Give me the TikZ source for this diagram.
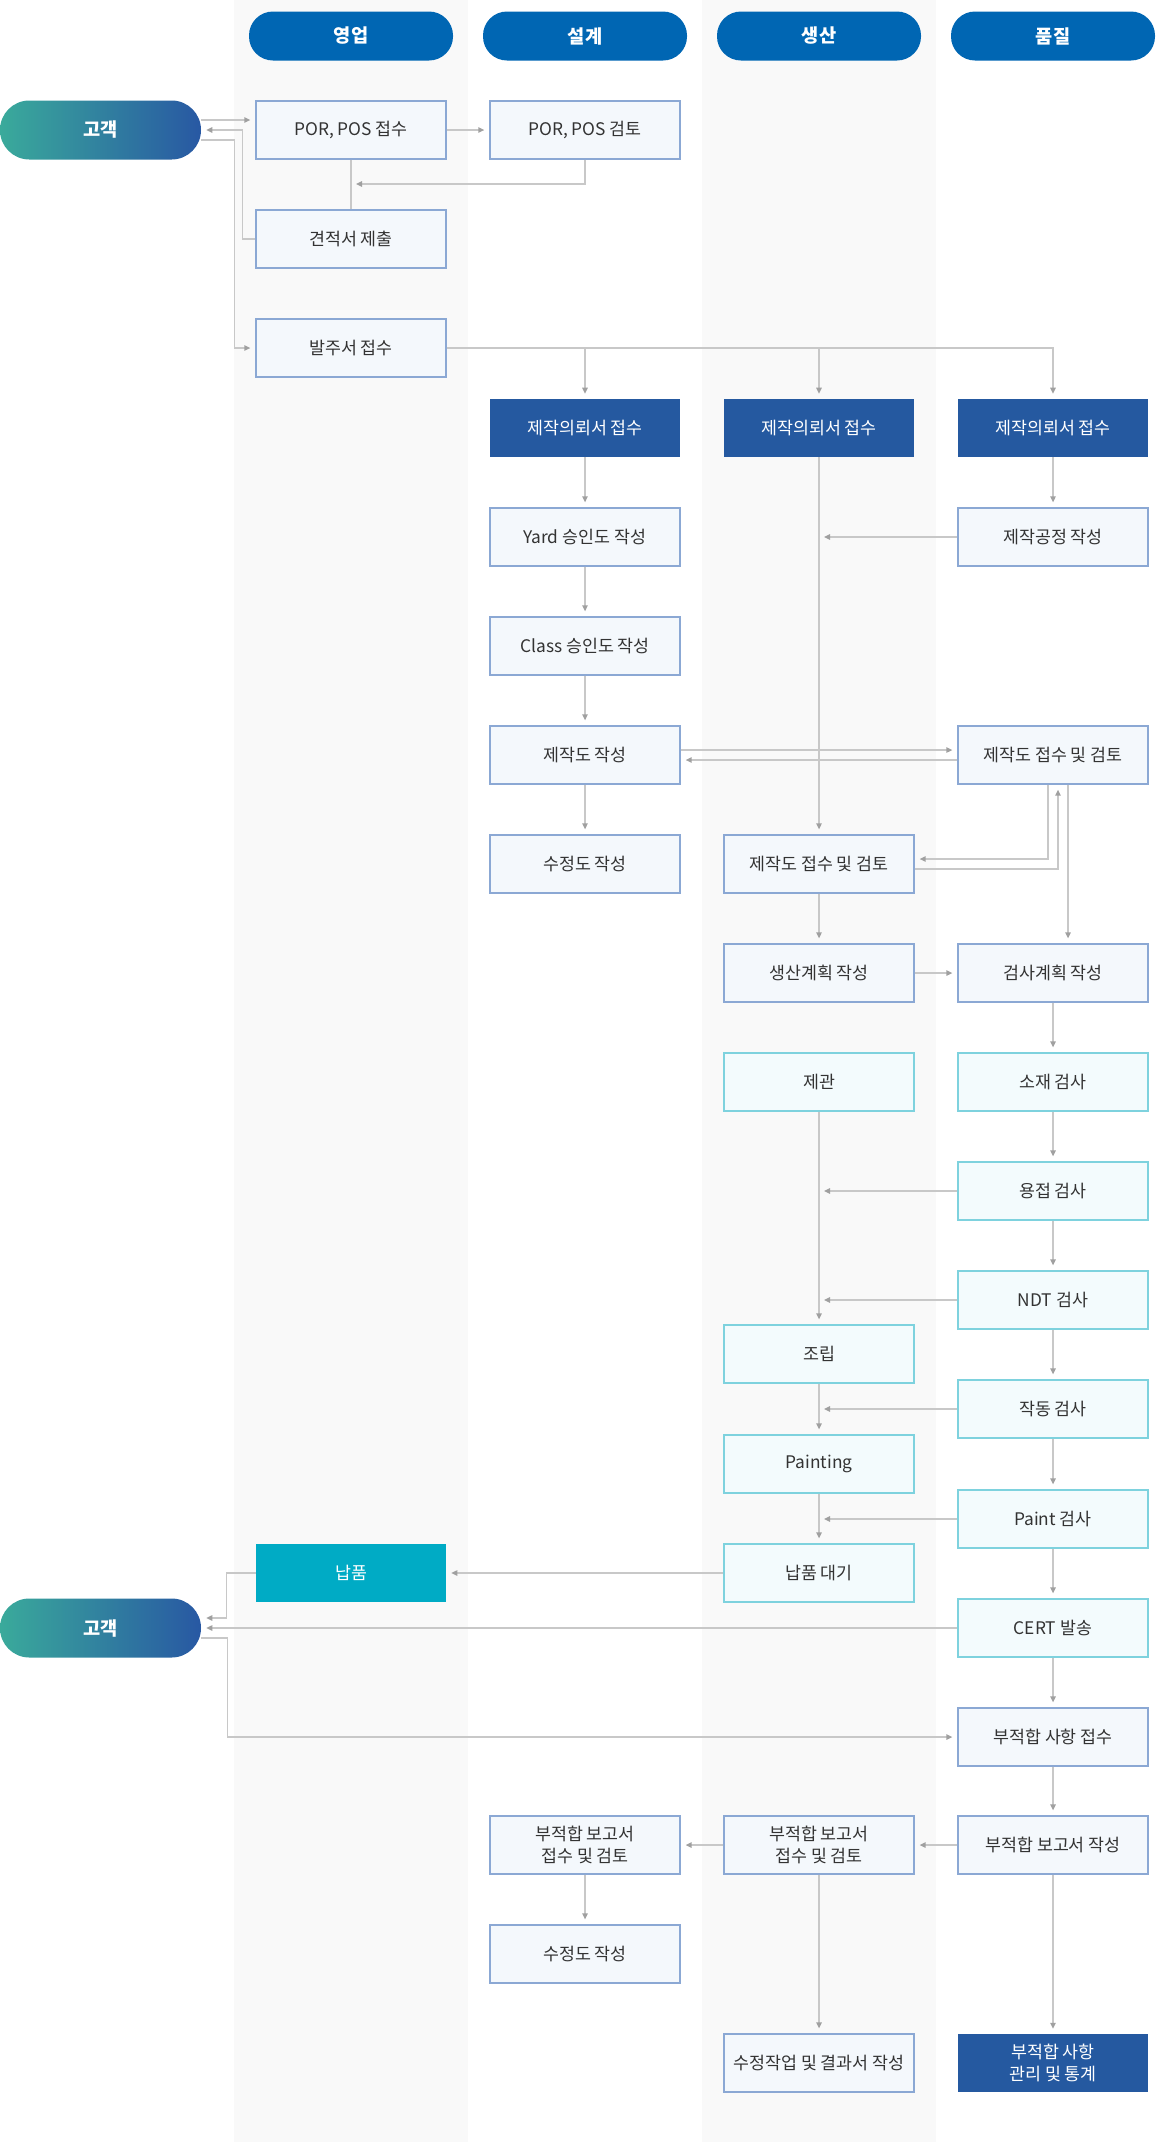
\documentclass[tikz,border=0pt]{standalone}
\usepackage{fontspec}
\setmainfont{Noto Sans CJK KR}
\usepackage{xcolor}
\usepackage{tikz}
\usetikzlibrary{arrows.meta,positioning,calc}
\definecolor{lanegray}{RGB}{249,249,249}
\definecolor{headblue}{RGB}{0,102,179}
\definecolor{custteal}{RGB}{58,170,155}
\definecolor{custblue}{RGB}{40,88,163}
\definecolor{boxfill}{RGB}{244,248,252}
\definecolor{boxline}{RGB}{139,168,212}
\definecolor{chkfill}{RGB}{243,251,253}
\definecolor{chkline}{RGB}{126,210,222}
\definecolor{darkblue}{RGB}{37,89,160}
\definecolor{deliver}{RGB}{0,171,197}
\definecolor{linegray}{RGB}{200,200,200}
\definecolor{tipgray}{RGB}{160,160,160}
\definecolor{textgray}{RGB}{51,51,51}
\tikzset{
  lanehead/.style={
    rectangle,
    rounded corners=18pt,
    fill=headblue,
    text=white,
    minimum width=153pt,
    minimum height=36.75pt,
    inner sep=0pt,
    font=\fontsize{14}{17}\selectfont\bfseries
  },
  custpill/.style={
    rectangle,
    rounded corners=22pt,
    left color=custteal,
    right color=custblue,
    text=white,
    minimum width=150.75pt,
    minimum height=44.25pt,
    inner sep=0pt,
    font=\fontsize{14}{17}\selectfont\bfseries
  },
  stepbox/.style={
    rectangle,
    draw=boxline,
    line width=0.9pt,
    fill=boxfill,
    text=textgray,
    minimum width=142.5pt,
    minimum height=43.5pt,
    inner sep=0pt,
    align=center,
    font=\fontsize{13}{16}\selectfont
  },
  stepbox2/.style={
    rectangle,
    draw=chkline,
    line width=0.9pt,
    fill=chkfill,
    text=textgray,
    minimum width=142.5pt,
    minimum height=43.5pt,
    inner sep=0pt,
    align=center,
    font=\fontsize{13}{16}\selectfont
  },
  stepbox3/.style={
    rectangle,
    fill=darkblue,
    text=white,
    minimum width=142.5pt,
    minimum height=43.5pt,
    inner sep=0pt,
    align=center,
    font=\fontsize{13}{16}\selectfont
  },
  stepbox4/.style={
    rectangle,
    fill=deliver,
    text=white,
    minimum width=142.5pt,
    minimum height=43.5pt,
    inner sep=0pt,
    align=center,
    font=\fontsize{13}{16}\selectfont
  },
  wire/.style={line width=1.1pt, linegray},
  flow/.style={-{Triangle[length=4.5pt,width=4pt,color=tipgray]}, line width=1.1pt, linegray, shorten >=3.75pt}
}

\begin{document}
\begin{tikzpicture}[x=0.75pt,y=-0.75pt]
\useasboundingbox (0,0) rectangle (1170,2142);
\fill[lanegray] (234,0) rectangle (468,2142);
\fill[lanegray] (702,0) rectangle (936,2142);

\node[lanehead] (h1) at (351,36) {영업};
\node[lanehead] (h2) at (585,36) {설계};
\node[lanehead] (h3) at (819,36) {생산};
\node[lanehead] (h4) at (1053,36) {품질};

\node[custpill] (cust1) at (100.5,130) {고객};
\node[custpill] (cust2) at (100.5,1628) {고객};

\node[stepbox] (sa1) at (351,130) {POR, POS 접수};
\node[stepbox] (sa2) at (351,239) {견적서 제출};
\node[stepbox] (sa3) at (351,348) {발주서 접수};
\node[stepbox4] (sa4) at (351,1573) {납품};

\node[stepbox] (de1) at (585,130) {POR, POS 검토};
\node[stepbox3] (de2) at (585,428) {제작의뢰서 접수};
\node[stepbox] (de3) at (585,537) {Yard 승인도 작성};
\node[stepbox] (de4) at (585,646) {Class 승인도 작성};
\node[stepbox] (de5) at (585,755) {제작도 작성};
\node[stepbox] (de6) at (585,864) {수정도 작성};
\node[stepbox] (de7) at (585,1845) {부적합 보고서\\접수 및 검토};
\node[stepbox] (de8) at (585,1954) {수정도 작성};

\node[stepbox3] (pr1) at (819,428) {제작의뢰서 접수};
\node[stepbox] (pr2) at (819,864) {제작도 접수 및 검토};
\node[stepbox] (pr3) at (819,973) {생산계획 작성};
\node[stepbox2] (pr4) at (819,1082) {제관};
\node[stepbox2] (pr5) at (819,1354) {조립};
\node[stepbox2] (pr6) at (819,1464) {Painting};
\node[stepbox2] (pr7) at (819,1573) {납품 대기};
\node[stepbox] (pr8) at (819,1845) {부적합 보고서\\접수 및 검토};
\node[stepbox] (pr9) at (819,2063) {수정작업 및 결과서 작성};

\node[stepbox3] (qa1) at (1053,428) {제작의뢰서 접수};
\node[stepbox] (qa2) at (1053,537) {제작공정 작성};
\node[stepbox] (qa3) at (1053,755) {제작도 접수 및 검토};
\node[stepbox] (qa4) at (1053,973) {검사계획 작성};
\node[stepbox2] (qa5) at (1053,1082) {소재 검사};
\node[stepbox2] (qa6) at (1053,1191) {용접 검사};
\node[stepbox2] (qa7) at (1053,1300) {NDT 검사};
\node[stepbox2] (qa8) at (1053,1409) {작동 검사};
\node[stepbox2] (qa9) at (1053,1519) {Paint 검사};
\node[stepbox2] (qa10) at (1053,1628) {CERT 발송};
\node[stepbox] (qa11) at (1053,1737) {부적합 사항 접수};
\node[stepbox] (qa12) at (1053,1845) {부적합 보고서 작성};
\node[stepbox3] (qa13) at (1053,2063) {부적합 사항\\관리 및 통계};

\coordinate (j1) at (351,184);

\draw[flow] ([yshift=7.5pt]cust1.east) -- ([yshift=7.5pt]sa1.west);
\draw[flow] (sa2.west) -- ++(-13,0) |- (cust1.east);
\draw[flow] ([yshift=-7.5pt]cust1.east) -- ++(33,0) |- (sa3.west);
\draw[flow] (sa1) -- (de1);
\draw[wire] (sa1) -- (sa2);
\draw[flow] (de1.south) |- (j1);
\draw[flow] (sa3.east) -| (qa1.north);
\draw[flow] (sa3.east -| de2.north) -- (de2.north);
\draw[flow] (sa3.east -| pr1.north) -- (pr1.north);

\draw[flow] (de2) -- (de3);
\draw[flow] (de3) -- (de4);
\draw[flow] (de4) -- (de5);
\draw[flow] (de5) -- (de6);
\draw[flow] (pr1) -- (pr2);
\draw[flow] (qa1) -- (qa2);
\draw[flow] (qa2.west) -- (qa2.west -| pr1.south);
\draw[flow] ([yshift=3.75pt]de5.east) -- ([yshift=3.75pt]qa3.west);
\draw[flow] ([yshift=-3.75pt]qa3.west) -- ([yshift=-3.75pt]de5.east);
\draw[flow] ([xshift=-3.75pt]qa3.south) |- ([yshift=3.75pt]pr2.east);
\draw[flow] ([yshift=-3.75pt]pr2.east) -| ([xshift=3.75pt]qa3.south);
\draw[flow] ([xshift=11.25pt]qa3.south) -- ([xshift=11.25pt]qa4.north);
\draw[flow] (pr2) -- (pr3);
\draw[flow] (pr3) -- (qa4);

\draw[flow] (qa4) -- (qa5);
\draw[flow] (qa5) -- (qa6);
\draw[flow] (qa6) -- (qa7);
\draw[flow] (qa7) -- (qa8);
\draw[flow] (qa8) -- (qa9);
\draw[flow] (qa9) -- (qa10);
\draw[flow] (qa10) -- (qa11);
\draw[flow] (qa11) -- (qa12);
\draw[flow] (qa12) -- (qa13);

\draw[flow] (pr4) -- (pr5);
\draw[flow] (pr5) -- (pr6);
\draw[flow] (pr6) -- (pr7);
\draw[flow] (qa6.west) -- (qa6.west -| pr4.south);
\draw[flow] (qa7.west) -- (qa7.west -| pr4.south);
\draw[flow] (qa8.west) -- (qa8.west -| pr5.south);
\draw[flow] (qa9.west) -- (qa9.west -| pr6.south);
\draw[flow] (pr7) -- (sa4);

\draw[flow] (sa4.west) -- ++(-29,0) |- ([yshift=7.5pt]cust2.east);
\draw[flow] (qa10) -- (cust2);
\draw[flow] ([yshift=-7.5pt]cust2.east) -- ++(26,0) |- (qa11.west);

\draw[flow] (qa12) -- (pr8);
\draw[flow] (pr8) -- (de7);
\draw[flow] (de7) -- (de8);
\draw[flow] (pr8) -- (pr9);
\end{tikzpicture}
\end{document}
